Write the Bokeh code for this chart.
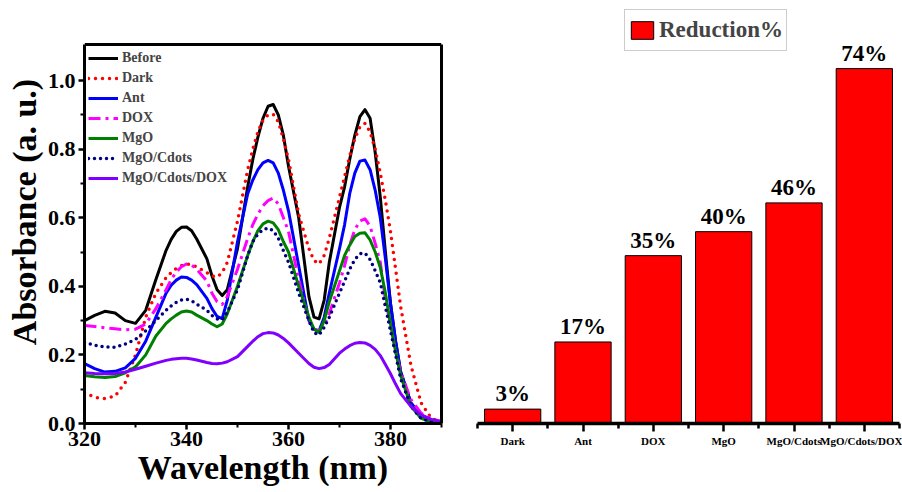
from bokeh.plotting import figure
from bokeh.layouts import row
from bokeh.models import (Range1d, FixedTicker, PrintfTickFormatter, Legend,
                          LegendItem, ColumnDataSource, LinearAxis, Span)
from bokeh.core.properties import value
from bokeh.embed import file_html
from bokeh.resources import INLINE

FONT = "Liberation Serif"

# ---- UV-Vis absorbance spectra ----
wavelength = [320, 322, 324, 326, 328, 330, 332, 334, 336,
              337, 338, 339, 340, 341, 342,
              344, 345, 346, 347, 348,
              350,
              352, 353, 354, 355, 356, 357, 358, 359, 360,
              362, 364, 365, 366, 367, 368,
              370, 371, 372, 373, 374, 375, 376, 377, 378, 379, 380, 381, 382,
              384, 386, 388, 390]

before = [0.300, 0.315, 0.327, 0.322, 0.300, 0.292, 0.330, 0.420, 0.505,
          0.537, 0.560, 0.572, 0.573, 0.562, 0.538,
          0.480, 0.430, 0.390, 0.373, 0.390,
          0.510,
          0.690, 0.770, 0.835, 0.890, 0.925, 0.930, 0.900, 0.840, 0.750,
          0.600, 0.370, 0.310, 0.305, 0.360, 0.470,
          0.630, 0.690, 0.770, 0.840, 0.895, 0.915, 0.890, 0.790, 0.660, 0.500, 0.350, 0.240, 0.150,
          0.060, 0.025, 0.010, 0.005]

dark = [0.090, 0.076, 0.073, 0.080, 0.120, 0.200, 0.310, 0.380, 0.425,
        0.440, 0.452, 0.460, 0.465, 0.463, 0.457,
        0.440, 0.430, 0.427, 0.440, 0.470,
        0.590,
        0.740, 0.800, 0.850, 0.885, 0.900, 0.902, 0.880, 0.830, 0.770,
        0.610, 0.510, 0.475, 0.465, 0.490, 0.540,
        0.660, 0.720, 0.780, 0.830, 0.865, 0.875, 0.850, 0.800, 0.730, 0.650, 0.560, 0.450, 0.340,
        0.170, 0.060, 0.015, 0.005]

ant = [0.175, 0.160, 0.150, 0.152, 0.162, 0.190, 0.240, 0.310, 0.380,
       0.403, 0.418, 0.427, 0.426, 0.418, 0.405,
       0.365, 0.335, 0.312, 0.306, 0.360,
       0.530,
       0.670, 0.710, 0.740, 0.760, 0.767, 0.760, 0.730, 0.680, 0.620,
       0.460, 0.300, 0.275, 0.270, 0.310, 0.380,
       0.510, 0.580, 0.670, 0.730, 0.765, 0.768, 0.740, 0.680, 0.600, 0.480, 0.350, 0.240, 0.150,
       0.060, 0.020, 0.005, 0.000]

dox = [0.286, 0.283, 0.279, 0.276, 0.273, 0.275, 0.290, 0.335, 0.390,
       0.420, 0.442, 0.457, 0.465, 0.462, 0.450,
       0.415, 0.380, 0.355, 0.347, 0.370,
       0.450,
       0.540, 0.580, 0.610, 0.635, 0.650, 0.657, 0.640, 0.600, 0.560,
       0.420, 0.300, 0.275, 0.270, 0.290, 0.320,
       0.410, 0.460, 0.520, 0.565, 0.590, 0.597, 0.575, 0.525, 0.470, 0.360, 0.290, 0.210, 0.150,
       0.070, 0.030, 0.015, 0.005]

mgo = [0.140, 0.136, 0.134, 0.137, 0.148, 0.165, 0.200, 0.255, 0.292,
       0.305, 0.316, 0.325, 0.328, 0.325, 0.316,
       0.300, 0.290, 0.282, 0.290, 0.320,
       0.400,
       0.490, 0.530, 0.562, 0.582, 0.590, 0.585, 0.565, 0.530, 0.500,
       0.400, 0.310, 0.275, 0.265, 0.300, 0.355,
       0.445, 0.490, 0.520, 0.545, 0.555, 0.556, 0.535, 0.500, 0.455, 0.380, 0.290, 0.210, 0.140,
       0.050, 0.015, 0.005, 0.000]

mgo_cdots = [0.236, 0.228, 0.223, 0.222, 0.232, 0.245, 0.270, 0.300, 0.330,
             0.343, 0.353, 0.360, 0.362, 0.358, 0.348,
             0.330, 0.315, 0.305, 0.303, 0.325,
             0.390,
             0.490, 0.530, 0.552, 0.565, 0.570, 0.562, 0.540, 0.504, 0.470,
             0.380, 0.300, 0.265, 0.258, 0.280, 0.310,
             0.380, 0.415, 0.450, 0.478, 0.495, 0.497, 0.478, 0.445, 0.410, 0.340, 0.270, 0.200, 0.130,
             0.050, 0.015, 0.005, 0.000]

mgo_cdots_dox = [0.148, 0.146, 0.145, 0.146, 0.150, 0.158, 0.167, 0.176, 0.184,
                 0.187, 0.189, 0.190, 0.190, 0.188, 0.185,
                 0.178, 0.175, 0.174, 0.176, 0.180,
                 0.195,
                 0.225, 0.240, 0.253, 0.262, 0.265, 0.264, 0.258, 0.248, 0.235,
                 0.205, 0.175, 0.164, 0.160, 0.163, 0.172,
                 0.205, 0.217, 0.227, 0.234, 0.236, 0.235, 0.228, 0.216, 0.198, 0.172, 0.145, 0.115, 0.087,
                 0.050, 0.025, 0.012, 0.005]

spectra_x_ticks = [320, 340, 360, 380]
spectra_y_ticks = [0.0, 0.2, 0.4, 0.6, 0.8, 1.0]
Y_MAX = 1.105  # top edge of the spectra box

# ---- photocatalytic reduction percentages ----
categories = ["Dark", "Ant", "DOX", "MgO", "MgO/Cdots", "MgO/Cdots/DOX"]
reduction = [3, 17, 35, 40, 46, 74]

H = 492
BOTTOM = 69
FRAME_H = H - BOTTOM

# ================= left panel: spectra =================
# the frame reaches the top of the canvas; the visible box is drawn up to Y_MAX
p1 = figure(width=470, height=H, output_backend="svg", toolbar_location=None,
            x_range=Range1d(320, 390),
            y_range=Range1d(0, Y_MAX * FRAME_H / (FRAME_H - 44)),
            min_border_left=84, min_border_right=29, min_border_top=0,
            min_border_bottom=BOTTOM)
p1.grid.visible = False
p1.outline_line_color = None
p1.background_fill_color = "white"
p1.border_fill_color = "white"

series = [
    ("Before", before, dict(line_color="black", line_width=3)),
    ("Dark", dark, dict(line_color="#ff0000", line_width=3.5, line_dash="0 7",
                        line_cap="round")),
    ("Ant", ant, dict(line_color="#0000ff", line_width=3)),
    ("DOX", dox, dict(line_color="#ff00ff", line_width=3, line_dash="12 5 3 5")),
    ("MgO", mgo, dict(line_color="#008000", line_width=3)),
    ("MgO/Cdots", mgo_cdots, dict(line_color="#000080", line_width=3.5,
                                  line_dash="0 6", line_cap="round")),
    ("MgO/Cdots/DOX", mgo_cdots_dox, dict(line_color="#8000ff", line_width=3)),
]
items = []
for name, ys, style in series:
    r = p1.line(wavelength, ys, line_join="round", **style)
    items.append(LegendItem(label=name, renderers=[r]))

leg1 = Legend(items=items, location=(4, FRAME_H - 48 - 140), margin=0, padding=0,
              spacing=0, glyph_width=30, glyph_height=20, label_height=20,
              label_standoff=4, label_text_font=FONT, label_text_font_style="bold",
              label_text_font_size="14px", border_line_color=None,
              background_fill_alpha=0)
p1.add_layout(leg1)

for ax in (p1.xaxis[0], p1.yaxis[0]):
    ax.axis_line_width = 3
    ax.major_tick_line_width = 2.5
    ax.minor_tick_line_width = 2
    ax.major_tick_out = 6
    ax.major_tick_in = 0
    ax.minor_tick_out = 4
    ax.minor_tick_in = 0
    ax.major_label_text_font = FONT
    ax.major_label_text_font_style = "bold"
    ax.major_label_text_font_size = "22px"
    ax.major_label_text_color = "black"
    ax.axis_label_text_font = FONT
    ax.axis_label_text_font_style = "bold"
    ax.axis_label_text_color = "black"

p1.yaxis.bounds = (0, Y_MAX)
p1.xaxis.ticker = FixedTicker(ticks=spectra_x_ticks, minor_ticks=[330, 350, 370, 390])
p1.yaxis.ticker = FixedTicker(ticks=spectra_y_ticks, minor_ticks=[0.1, 0.3, 0.5, 0.7, 0.9])
p1.yaxis.formatter = PrintfTickFormatter(format="%.1f")
p1.xaxis.axis_label = "Wavelength (nm)"
p1.yaxis.axis_label = "Absorbance (a. u.)"
p1.xaxis.axis_label_text_font_size = "34px"
p1.yaxis.axis_label_text_font_size = "34px"
p1.xaxis.major_label_standoff = 2
p1.yaxis.major_label_standoff = 3
p1.xaxis.axis_label_standoff = 0
p1.yaxis.axis_label_standoff = 2

# closing edges of the box: top line and a bare right axis
p1.add_layout(Span(location=Y_MAX, dimension="width", line_color="black",
                   line_width=3))
right_edge = LinearAxis(bounds=(0, Y_MAX), ticker=FixedTicker(ticks=[]),
                        axis_line_width=3, major_tick_out=0, major_tick_in=0,
                        minor_tick_out=0, minor_tick_in=0)
p1.add_layout(right_edge, "right")

# ================= right panel: reduction bars =================
p2 = figure(width=432, height=H, output_backend="svg", toolbar_location=None,
            x_range=Range1d(-0.5, 5.5), y_range=Range1d(0, 88.2),
            min_border_left=7, min_border_right=3, min_border_top=0,
            min_border_bottom=BOTTOM)
p2.grid.visible = False
p2.outline_line_color = None
p2.yaxis.visible = False

src = ColumnDataSource(dict(x=list(range(len(categories))), top=reduction,
                            txt=[f"{v}%" for v in reduction]))
bars = p2.vbar(x="x", top="top", width=0.8, source=src, fill_color="#ff0000",
               line_color="black", line_width=1)
p2.text(x="x", y="top", text="txt", source=src, text_align="center",
        text_baseline="bottom", y_offset=-3, text_font=value(FONT),
        text_font_style="bold", text_font_size="23px", text_color="black")

leg2 = Legend(items=[LegendItem(label="Reduction%", renderers=[bars])],
              location=(147, FRAME_H - 51), padding=3, margin=0, spacing=0,
              glyph_width=28, glyph_height=22, label_height=34, label_standoff=3,
              label_text_font=FONT, label_text_font_style="bold",
              label_text_font_size="23px", border_line_color="#9a9a9a",
              border_line_width=1.5, background_fill_color="white")
p2.add_layout(leg2)

xa = p2.xaxis[0]
xa.ticker = FixedTicker(ticks=list(range(len(categories))),
                        minor_ticks=[i - 0.5 for i in range(len(categories) + 1)])
xa.major_label_overrides = {i: c for i, c in enumerate(categories)}
xa.axis_line_width = 3.5
xa.major_tick_line_width = 2.5
xa.minor_tick_line_width = 2.5
xa.major_tick_out = 8
xa.major_tick_in = 0
xa.minor_tick_out = 5
xa.minor_tick_in = 0
xa.major_label_standoff = 3
xa.major_label_text_font = FONT
xa.major_label_text_font_style = "bold"
xa.major_label_text_font_size = "11px"
xa.major_label_text_color = "black"

layout = row(p1, p2, spacing=0)
open("out.html", "w").write(file_html(layout, INLINE))
